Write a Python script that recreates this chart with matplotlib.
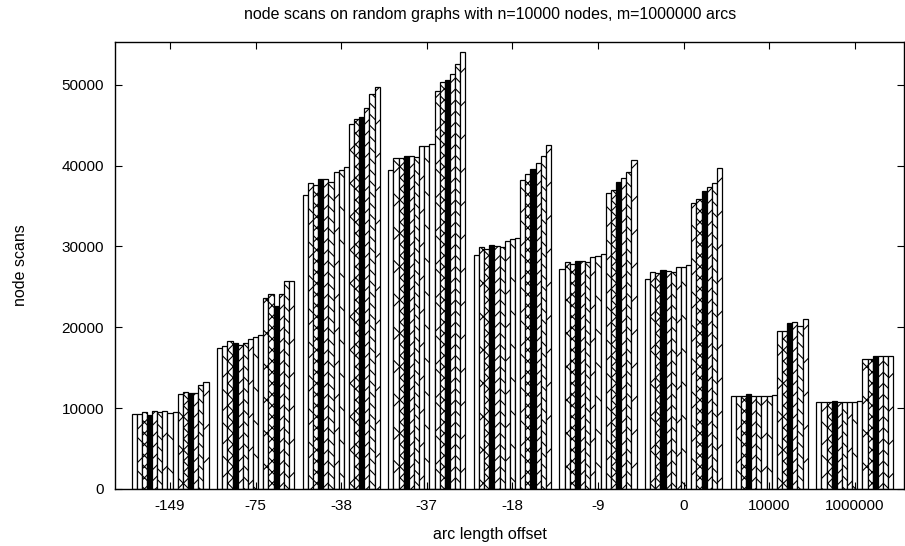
import numpy as np
import matplotlib.pyplot as plt

plt.rcParams['font.family'] = ['Liberation Sans', 'DejaVu Sans']
plt.rcParams['hatch.linewidth'] = 0.8

# offsets tested and node scans per run (15 runs per offset)
offsets = ['-149', '-75', '-38', '-37', '-18', '-9', '0', '10000', '1000000']

scans_m149 = [9300, 9300, 9500, 9200, 9600, 9500, 9600, 9400, 9500,
              11800, 12000, 11900, 11900, 12900, 13200]
scans_m75 = [17400, 17700, 18300, 18100, 17800, 18000, 18600, 18800, 19100,
             23600, 24100, 22600, 24100, 25700, 25700]
scans_m38 = [36400, 37900, 37600, 38300, 38300, 38000, 39200, 39500, 39800,
             45200, 45800, 46000, 47100, 48900, 49700]
scans_m37 = [39500, 41000, 41000, 41200, 41200, 41100, 42400, 42400, 42700,
             49200, 50400, 50600, 51400, 52600, 54100]
scans_m18 = [28900, 29900, 29700, 30200, 30100, 29900, 30700, 30900, 31000,
             38200, 39000, 39600, 40300, 41200, 42500]
scans_m9 = [27200, 28100, 27800, 28200, 28200, 28100, 28700, 28800, 29100,
            36600, 37000, 38000, 38500, 39200, 40700]
scans_0 = [26000, 26900, 26700, 27100, 27000, 26900, 27500, 27500, 27700,
           35400, 35900, 36900, 37300, 37900, 39700]
scans_10000 = [11500, 11500, 11500, 11700, 11500, 11500, 11500, 11500, 11600,
               19600, 19600, 20500, 20600, 20200, 21000]
scans_1000000 = [10800, 10800, 10800, 10900, 10800, 10800, 10800, 10800, 10900,
                 16100, 16100, 16400, 16400, 16400, 16500]

data = np.array([scans_m149, scans_m75, scans_m38, scans_m37, scans_m18,
                 scans_m9, scans_0, scans_10000, scans_1000000])

# gnuplot-like fill pattern cycle: empty, crosshatch, fine crosshatch, solid,
# diagonals
patterns = ['', 'x', 'xxx', 'solid', '///', '\\\\\\', '/', '\\']

n_groups, n_runs = data.shape
width = 0.06
x = np.arange(n_groups)

fig = plt.figure(figsize=(9.05, 5.46), dpi=100)
ax = fig.add_axes([0.1271, 0.1044, 0.8718, 0.8187])

for j in range(n_runs):
    pat = patterns[j % len(patterns)]
    pos = x + (j - (n_runs - 1) / 2) * width
    if pat == 'solid':
        ax.bar(pos, data[:, j], width, color='black', edgecolor='black',
               linewidth=0.9)
    else:
        ax.bar(pos, data[:, j], width, color='white', edgecolor='black',
               hatch=pat, linewidth=0.9)

ax.set_xlim(-0.6425, 8.575)
ax.set_ylim(0, 55300)
ax.set_xticks(x)
ax.set_xticklabels(offsets)
ax.set_yticks(np.arange(0, 50001, 10000))
ax.tick_params(axis='both', direction='in', length=5, labelsize=11,
               top=True, right=True, width=0.8)
ax.tick_params(axis='x', pad=7)
ax.tick_params(axis='y', pad=8)
for s in ax.spines.values():
    s.set_linewidth(1.0)

fig.text(490 / 905, 1 - 15 / 546,
         'node scans on random graphs with n=10000 nodes, m=1000000 arcs',
         fontsize=11.5, ha='center', va='center')
fig.text(490 / 905, 1 - 535 / 546, 'arc length offset',
         fontsize=11.5, ha='center', va='center')
ax.set_ylabel('node scans', fontsize=11.5, labelpad=24)

fig.savefig('out.png', dpi=100)
